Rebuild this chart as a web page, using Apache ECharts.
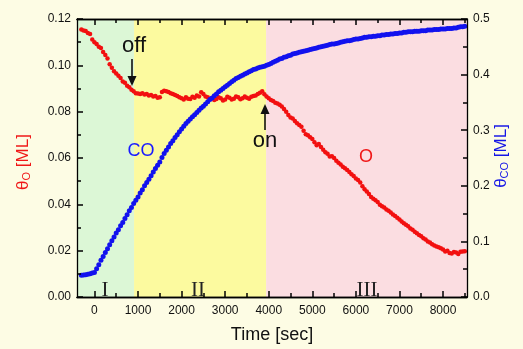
<!DOCTYPE html>
<html>
<head>
<meta charset="utf-8">
<script src="https://cdn.jsdelivr.net/npm/echarts@6/dist/echarts.min.js"></script>
<style>
  html, body { margin: 0; padding: 0; background: #fdfce4; }
  #chart { width: 523px; height: 349px; }
</style>
</head>
<body>
<div id="chart"></div>
<script>
// time axis (s), every 50 s
var times = [
  -300, -250, -200, -150, -100, -50, 0, 50, 100, 150,
  200, 250, 300, 350, 400, 450, 500, 550, 600, 650,
  700, 750, 800, 850, 900, 950, 1000, 1050, 1100, 1150,
  1200, 1250, 1300, 1350, 1400, 1450, 1500, 1550, 1600, 1650,
  1700, 1750, 1800, 1850, 1900, 1950, 2000, 2050, 2100, 2150,
  2200, 2250, 2300, 2350, 2400, 2450, 2500, 2550, 2600, 2650,
  2700, 2750, 2800, 2850, 2900, 2950, 3000, 3050, 3100, 3150,
  3200, 3250, 3300, 3350, 3400, 3450, 3500, 3550, 3600, 3650,
  3700, 3750, 3800, 3850, 3900, 3950, 4000, 4050, 4100, 4150,
  4200, 4250, 4300, 4350, 4400, 4450, 4500, 4550, 4600, 4650,
  4700, 4750, 4800, 4850, 4900, 4950, 5000, 5050, 5100, 5150,
  5200, 5250, 5300, 5350, 5400, 5450, 5500, 5550, 5600, 5650,
  5700, 5750, 5800, 5850, 5900, 5950, 6000, 6050, 6100, 6150,
  6200, 6250, 6300, 6350, 6400, 6450, 6500, 6550, 6600, 6650,
  6700, 6750, 6800, 6850, 6900, 6950, 7000, 7050, 7100, 7150,
  7200, 7250, 7300, 7350, 7400, 7450, 7500, 7550, 7600, 7650,
  7700, 7750, 7800, 7850, 7900, 7950, 8000, 8050, 8100, 8150,
  8200, 8250, 8300, 8350, 8400, 8450, 8500];

// theta_O [ML] (left axis)
var thetaO = [
  0.1155, 0.1150, 0.1148, 0.1140, 0.1135, 0.1112, 0.1100, 0.1092, 0.1080, 0.1075,
  0.1058, 0.1045, 0.1030, 0.1005, 0.0990, 0.0975, 0.0965, 0.0955, 0.0945, 0.0930,
  0.0925, 0.0912, 0.0905, 0.0895, 0.0888, 0.0880, 0.0878, 0.0876, 0.0880, 0.0874,
  0.0876, 0.0870, 0.0872, 0.0866, 0.0868, 0.0860, 0.0862, 0.0885, 0.0890, 0.0888,
  0.0885, 0.0880, 0.0876, 0.0872, 0.0868, 0.0862, 0.0858, 0.0852, 0.0862, 0.0856,
  0.0855, 0.0864, 0.0860, 0.0870, 0.0866, 0.0884, 0.0876, 0.0866, 0.0862, 0.0856,
  0.0858, 0.0850, 0.0855, 0.0862, 0.0858, 0.0848, 0.0852, 0.0864, 0.0860, 0.0852,
  0.0856, 0.0866, 0.0862, 0.0854, 0.0858, 0.0866, 0.0860, 0.0856, 0.0864, 0.0868,
  0.0870, 0.0876, 0.0882, 0.0888, 0.0875, 0.0866, 0.0858, 0.0850, 0.0846, 0.0838,
  0.0835, 0.0830, 0.0822, 0.0812, 0.0800, 0.0786, 0.0775, 0.0770, 0.0760, 0.0750,
  0.0742, 0.0735, 0.0718, 0.0702, 0.0698, 0.0690, 0.0682, 0.0668, 0.0655, 0.0660,
  0.0648, 0.0636, 0.0625, 0.0618, 0.0606, 0.0608, 0.0600, 0.0588, 0.0580, 0.0572,
  0.0562, 0.0556, 0.0548, 0.0540, 0.0530, 0.0522, 0.0512, 0.0505, 0.0494, 0.0478,
  0.0465, 0.0455, 0.0445, 0.0432, 0.0424, 0.0418, 0.0410, 0.0398, 0.0392, 0.0386,
  0.0378, 0.0372, 0.0365, 0.0356, 0.0350, 0.0342, 0.0335, 0.0326, 0.0318, 0.0312,
  0.0305, 0.0296, 0.0290, 0.0282, 0.0275, 0.0268, 0.0262, 0.0254, 0.0248, 0.0240,
  0.0235, 0.0228, 0.0222, 0.0218, 0.0215, 0.0210, 0.0205, 0.0196, 0.0200, 0.0190,
  0.0188, 0.0194, 0.0192, 0.0186, 0.0195, 0.0196, 0.0198];

// theta_CO [ML] (right axis)
var thetaCO = [
  0.039, 0.0395, 0.040, 0.041, 0.042, 0.043, 0.044, 0.051, 0.058, 0.066,
  0.073, 0.080, 0.087, 0.094, 0.101, 0.108, 0.115, 0.121, 0.128, 0.134,
  0.141, 0.148, 0.155, 0.161, 0.168, 0.174, 0.180, 0.187, 0.193, 0.200,
  0.206, 0.212, 0.218, 0.225, 0.231, 0.237, 0.243, 0.251, 0.258, 0.264,
  0.270, 0.276, 0.281, 0.287, 0.292, 0.297, 0.302, 0.307, 0.312, 0.316,
  0.320, 0.324, 0.328, 0.332, 0.336, 0.340, 0.343, 0.347, 0.351, 0.355,
  0.358, 0.362, 0.365, 0.369, 0.372, 0.375, 0.378, 0.381, 0.384, 0.387,
  0.390, 0.393, 0.395, 0.397, 0.399, 0.401, 0.403, 0.405, 0.407, 0.409,
  0.410, 0.412, 0.413, 0.414, 0.415, 0.417, 0.418, 0.420, 0.422, 0.424,
  0.426, 0.428, 0.429, 0.431, 0.432, 0.434, 0.435, 0.437, 0.438, 0.439,
  0.440, 0.441, 0.442, 0.443, 0.444, 0.445, 0.446, 0.447, 0.448, 0.449,
  0.450, 0.451, 0.452, 0.453, 0.454, 0.455, 0.455, 0.456, 0.457, 0.458,
  0.459, 0.460, 0.461, 0.461, 0.462, 0.463, 0.464, 0.464, 0.465, 0.466,
  0.467, 0.467, 0.468, 0.468, 0.469, 0.469, 0.470, 0.470, 0.471, 0.471,
  0.472, 0.472, 0.473, 0.473, 0.474, 0.474, 0.475, 0.475, 0.476, 0.476,
  0.477, 0.477, 0.477, 0.478, 0.478, 0.478, 0.479, 0.479, 0.479, 0.480,
  0.480, 0.480, 0.481, 0.481, 0.481, 0.482, 0.482, 0.482, 0.483, 0.483,
  0.483, 0.484, 0.484, 0.485, 0.486, 0.486, 0.487];

// phase boundaries I / II / III (s)
var phaseBounds = [-400, 910, 3940, 8550];
var phaseNames = ['I', 'II', 'III'];

var majorX = [0, 1000, 2000, 3000, 4000, 5000, 6000, 7000, 8000];
var minorX = [-500, 500, 1500, 2500, 3500, 4500, 5500, 6500, 7500, 8500];

var FONT = 'Liberation Sans, Arial, sans-serif';
var SERIF = 'Liberation Serif, serif';

function zip(xs, ys) {
  return xs.map(function (x, i) { return [x, ys[i]]; });
}

function xAx(pos, ticks, len, extra) {
  var a = {
    type: 'value', position: pos, min: phaseBounds[0], max: phaseBounds[3], z: 50,
    axisLine: { show: true, onZero: false, lineStyle: { color: '#000', width: 1.3 } },
    axisTick: { show: true, inside: true, length: len, customValues: ticks, lineStyle: { color: '#000', width: 1.5 } },
    axisLabel: { show: false },
    splitLine: { show: false }
  };
  return Object.assign(a, extra || {});
}

function yAx(pos, max, step, digits) {
  return {
    type: 'value', position: pos, min: 0, max: max, interval: step, z: 50,
    axisLine: { show: true, onZero: false, lineStyle: { color: '#000', width: 1.3 } },
    axisTick: { show: true, inside: true, length: 6, lineStyle: { color: '#000', width: 1.5 } },
    minorTick: { show: true, splitNumber: 2, length: 4, lineStyle: { color: '#000', width: 1.5 } },
    axisLabel: { color: '#111', fontFamily: FONT, fontSize: 12, margin: 6,
      formatter: function (v) { return v.toFixed(digits); } },
    splitLine: { show: false }
  };
}

function label(x, y, text, size, color, family) {
  return { type: 'text', x: x, y: y, z: 100,
    style: { text: text, fontSize: size, fontFamily: family || FONT, fill: color, align: 'center', verticalAlign: 'middle' } };
}

var chart = echarts.init(document.getElementById('chart'));
var phaseColors = ['#dcf7d6', '#fcfa9f', '#fbdde1'];

chart.setOption({
  backgroundColor: '#fdfce4',
  animation: false,
  grid: { left: 77, right: 56, top: 19, bottom: 45 },
  xAxis: [
    xAx('bottom', majorX, 6, {
      axisLabel: { show: true, customValues: majorX, color: '#111', fontFamily: FONT, fontSize: 12, margin: 8,
        formatter: function (v) { return String(v); } },
      name: 'Time [sec]', nameLocation: 'middle', nameGap: 29,
      nameTextStyle: { color: '#111', fontFamily: FONT, fontSize: 18 }
    }),
    xAx('bottom', minorX, 4),
    xAx('top', majorX, 6),
    xAx('top', minorX, 4)
  ],
  yAxis: [yAx('left', 0.12, 0.02, 2), yAx('right', 0.5, 0.1, 1)],
  series: [
    {
      name: 'O', type: 'scatter', xAxisIndex: 0, yAxisIndex: 0,
      symbolSize: 4.5, itemStyle: { color: '#f21010', opacity: 1 },
      data: zip(times, thetaO),
      markArea: {
        silent: true,
        label: { show: false },
        data: phaseNames.map(function (n, i) {
          return [{ xAxis: phaseBounds[i], itemStyle: { color: phaseColors[i] } },
                  { xAxis: phaseBounds[i + 1] }];
        })
      }
    },
    {
      name: 'CO', type: 'scatter', xAxisIndex: 0, yAxisIndex: 1,
      symbolSize: 5, itemStyle: { color: '#1212ee', opacity: 1 },
      data: zip(times, thetaCO)
    }
  ],
  graphic: [
    // axis titles
    {
      type: 'text', x: 23, y: 162, rotation: Math.PI / 2, z: 100,
      style: {
        text: '{a|θ}{s|O}{a| [ML]}', align: 'center', verticalAlign: 'middle',
        rich: {
          a: { fontSize: 17, fontFamily: FONT, fill: '#f01818' },
          s: { fontSize: 11, fontFamily: FONT, fill: '#f01818', verticalAlign: 'bottom', padding: [8, 0, 0, 0] }
        }
      }
    },
    {
      type: 'text', x: 501, y: 156, rotation: Math.PI / 2, z: 100,
      style: {
        text: '{a|θ}{s|CO}{a| [ML]}', align: 'center', verticalAlign: 'middle',
        rich: {
          a: { fontSize: 17, fontFamily: FONT, fill: '#1515e6' },
          s: { fontSize: 11, fontFamily: FONT, fill: '#1515e6', verticalAlign: 'bottom', padding: [8, 0, 0, 0] }
        }
      }
    },
    // annotations
    label(134, 46, 'off', 22, '#111'),
    { type: 'line', z: 100, shape: { x1: 132, y1: 59, x2: 132, y2: 78 }, style: { stroke: '#111', lineWidth: 1.6 } },
    { type: 'polygon', z: 100, shape: { points: [[127.5, 76], [136.5, 76], [132, 86]] }, style: { fill: '#111' } },
    label(265, 141, 'on', 22, '#111'),
    { type: 'line', z: 100, shape: { x1: 265, y1: 130, x2: 265, y2: 112 }, style: { stroke: '#111', lineWidth: 1.6 } },
    { type: 'polygon', z: 100, shape: { points: [[260.5, 114], [269.5, 114], [265, 104]] }, style: { fill: '#111' } },
    label(141, 151, 'CO', 18, '#1a1aff'),
    label(366, 157, 'O', 18, '#f01818'),
    // phase labels
    label(105, 290, phaseNames[0], 21, '#222', SERIF),
    label(198, 290, phaseNames[1], 21, '#222', SERIF),
    label(367, 290, phaseNames[2], 21, '#222', SERIF)
  ]
});
</script>
</body>
</html>
